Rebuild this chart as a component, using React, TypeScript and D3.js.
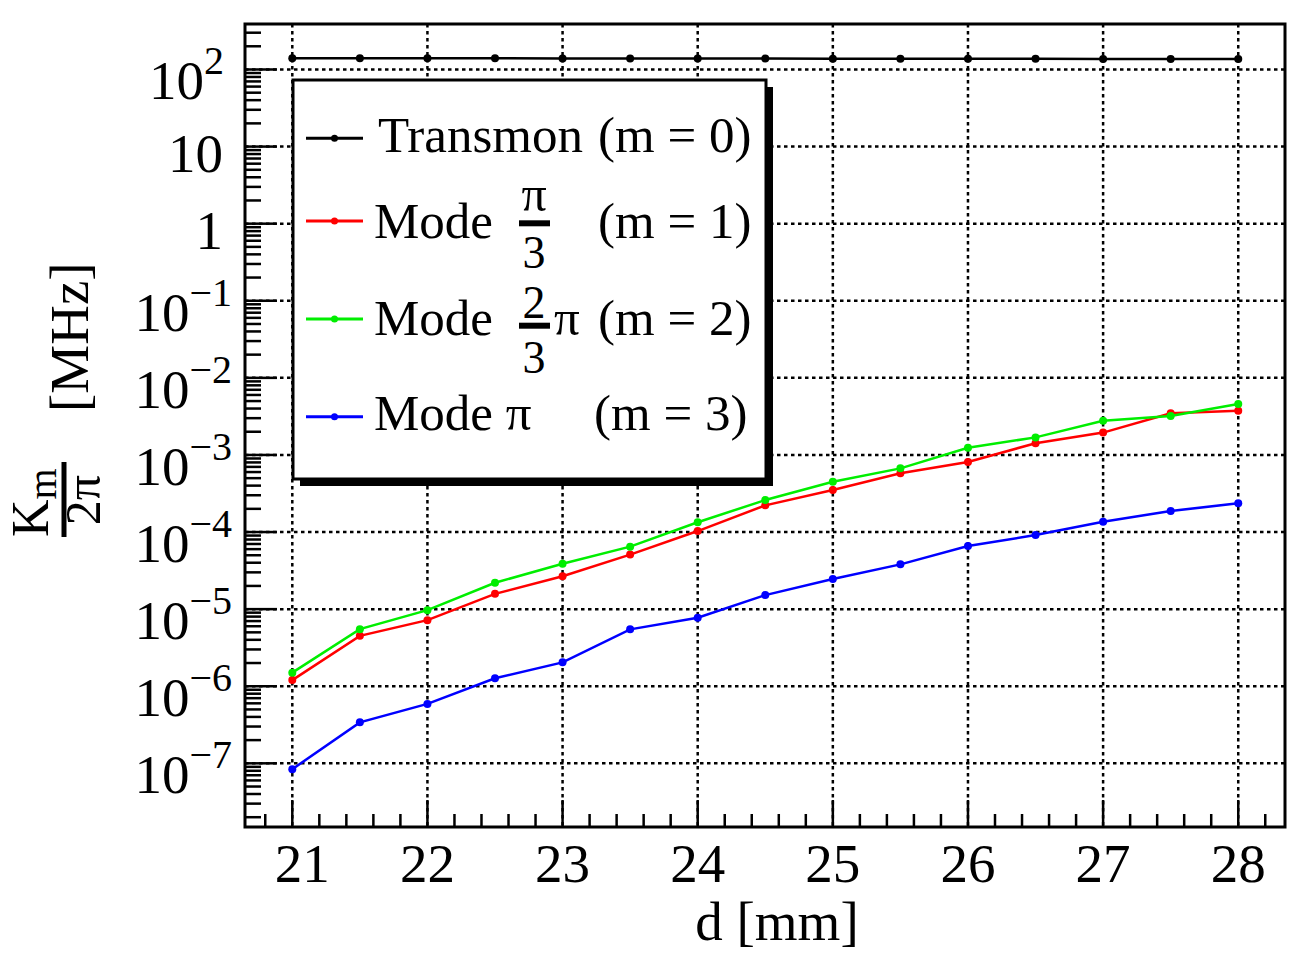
import * as d3 from "d3"

// d [mm]
const dValues = [21, 21.5, 22, 22.5, 23, 23.5, 24, 24.5, 25, 25.5, 26, 26.5, 27, 27.5, 28]

// K_m / 2pi [MHz]
const transmon = [140, 140, 139.5, 139.5, 139, 139, 138.5, 138.5, 138, 138, 137.5, 137.5, 137, 137, 137]
const modePi3 = [1.2e-6, 4.5e-6, 7.2e-6, 1.58e-5, 2.67e-5, 5.1e-5, 1.03e-4, 2.22e-4, 3.51e-4, 5.78e-4, 8.1e-4, 1.42e-3, 1.95e-3, 3.47e-3, 3.75e-3]
const mode2Pi3 = [1.5e-6, 5.5e-6, 9.7e-6, 2.2e-5, 3.88e-5, 6.46e-5, 1.34e-4, 2.6e-4, 4.5e-4, 6.7e-4, 1.24e-3, 1.69e-3, 2.78e-3, 3.2e-3, 4.58e-3]
const modePi = [8.4e-8, 3.4e-7, 5.9e-7, 1.27e-6, 2.04e-6, 5.47e-6, 7.75e-6, 1.52e-5, 2.46e-5, 3.81e-5, 6.59e-5, 9.14e-5, 1.36e-4, 1.87e-4, 2.36e-4]

const xTicks = [21, 22, 23, 24, 25, 26, 27, 28]
const yTickExps = [-7, -6, -5, -4, -3, -2, -1, 0, 1, 2]

const W = 1291
const H = 967
const left = 245
const right = 1285
const top = 24
const bottom = 827
const font = "'Liberation Serif', 'DejaVu Serif', serif"

const x = d3.scaleLinear().domain([20.65, 28.346]).range([left, right])
const y = d3.scaleLog().domain([Math.pow(10, -7.826), Math.pow(10, 2.59)]).range([bottom, top])

const series = [
  { values: transmon, color: "#000000" },
  { values: modePi3, color: "#ff0000" },
  { values: mode2Pi3, color: "#00ee00" },
  { values: modePi, color: "#0000ff" },
]

const line = d3
  .line<number>()
  .x((_, i) => x(dValues[i]))
  .y((v) => y(v))

// minor ticks
const [yMin, yMax] = y.domain()
const yMinor: number[] = []
for (let e = -8; e <= 2; e++) {
  for (let k = 2; k <= 9; k++) {
    const v = k * Math.pow(10, e)
    if (v > yMin && v < yMax) yMinor.push(v)
  }
}
const xMinor: number[] = []
for (let t = 20.8; t < 28.35; t += 0.2) {
  const r = Math.round(t * 10) / 10
  if (Math.abs(r - Math.round(r)) > 0.01) xMinor.push(r)
}

function yLabel(e: number) {
  const py = y(Math.pow(10, e))
  if (e === 0 || e === 1) {
    return (
      <text key={e} x={223} y={py + 25} textAnchor="end" fontSize={55}>
        {e === 0 ? "1" : "10"}
      </text>
    )
  }
  const exp = e < 0 ? `\u2212${-e}` : `${e}`
  return (
    <text key={e} x={e < 0 ? 232 : 224} y={py + 30} textAnchor="end" fontSize={55}>
      10
      <tspan fontSize={40} dy={-25}>
        {exp}
      </tspan>
    </text>
  )
}

function LegendSample({ cy, color }: { cy: number; color: string }) {
  return (
    <g>
      <line x1={306} x2={363} y1={cy} y2={cy} stroke={color} strokeWidth={3} />
      <circle cx={334.5} cy={cy} r={3.5} fill={color} />
    </g>
  )
}

export default function App() {
  return (
    <svg
      width={W}
      height={H}
      style={{ position: "absolute", left: 0, top: 0, background: "#fff" }}
      fontFamily={font}
    >
      <rect width={W} height={H} fill="#fff" />

      {/* grid */}
      <g stroke="#000" strokeWidth={2.5} strokeDasharray="3.5 3.5">
        {xTicks.map((t) => (
          <line key={t} x1={x(t)} x2={x(t)} y1={top} y2={bottom} />
        ))}
        {yTickExps.map((e) => (
          <line key={e} x1={left} x2={right} y1={y(Math.pow(10, e))} y2={y(Math.pow(10, e))} />
        ))}
      </g>

      {/* ticks */}
      <g stroke="#000" strokeWidth={2.5}>
        {yTickExps.map((e) => (
          <line key={e} x1={left} x2={left + 32} y1={y(Math.pow(10, e))} y2={y(Math.pow(10, e))} />
        ))}
        {yMinor.map((v) => (
          <line key={v} x1={left} x2={left + 16} y1={y(v)} y2={y(v)} />
        ))}
        {xTicks.map((t) => (
          <line key={t} x1={x(t)} x2={x(t)} y1={bottom} y2={bottom - 27} />
        ))}
        {xMinor.map((t) => (
          <line key={t} x1={x(t)} x2={x(t)} y1={bottom} y2={bottom - 13} />
        ))}
      </g>

      {/* data */}
      {series.map((s, i) => (
        <g key={i}>
          <path d={line(s.values) || ""} fill="none" stroke={s.color} strokeWidth={2.5} />
          {s.values.map((v, j) => (
            <circle key={j} cx={x(dValues[j])} cy={y(v)} r={4} fill={s.color} />
          ))}
        </g>
      ))}

      {/* legend */}
      <rect x={300} y={87} width={473} height={399} fill="#000" />
      <rect x={293} y={80} width={473} height={399} fill="#fff" stroke="#000" strokeWidth={3} />
      <g fontSize={51} fill="#000">
        <LegendSample cy={138.3} color={series[0].color} />
        <text x={378} y={151.7}>Transmon</text>
        <text x={598} y={151.7}>(m = 0)</text>

        <LegendSample cy={221} color={series[1].color} />
        <text x={374} y={238}>Mode</text>
        <text x={534} y={211} textAnchor="middle" fontSize={50}>π</text>
        <line x1={519} x2={550} y1={223.3} y2={223.3} stroke="#000" strokeWidth={6} />
        <text x={534} y={268} textAnchor="middle" fontSize={46}>3</text>
        <text x={598} y={238}>(m = 1)</text>

        <LegendSample cy={319} color={series[2].color} />
        <text x={374} y={335}>Mode</text>
        <text x={534} y={318} textAnchor="middle" fontSize={46}>2</text>
        <line x1={519} x2={550} y1={325.7} y2={325.7} stroke="#000" strokeWidth={6} />
        <text x={534} y={373} textAnchor="middle" fontSize={46}>3</text>
        <text x={554} y={335}>π</text>
        <text x={598} y={335}>(m = 2)</text>

        <LegendSample cy={416.7} color={series[3].color} />
        <text x={374} y={430}>Mode π</text>
        <text x={594} y={430}>(m = 3)</text>
      </g>

      {/* frame */}
      <rect x={left} y={top} width={right - left} height={bottom - top} fill="none" stroke="#000" strokeWidth={3} />

      {/* tick labels */}
      <g fill="#000">
        {xTicks.map((t, i) => (
          <text key={t} x={x(t) + (i === 0 ? 10 : 0)} y={882} textAnchor="middle" fontSize={55}>
            {t}
          </text>
        ))}
        {yTickExps.map((e) => yLabel(e))}
      </g>

      {/* axis titles */}
      <text x={777} y={940} textAnchor="middle" fontSize={55}>
        d [mm]
      </text>
      <g transform="translate(0,499) rotate(-90)">
        <text x={-38} y={48} fontSize={52}>
          K
          <tspan fontSize={40} dy={8}>
            m
          </tspan>
        </text>
        <line x1={-38} x2={37} y1={64} y2={64} stroke="#000" strokeWidth={5} />
        <text x={-1} y={100} textAnchor="middle" fontSize={50}>
          2π
        </text>
        <text x={87} y={88} fontSize={55}>
          [MHz]
        </text>
      </g>
    </svg>
  )
}
